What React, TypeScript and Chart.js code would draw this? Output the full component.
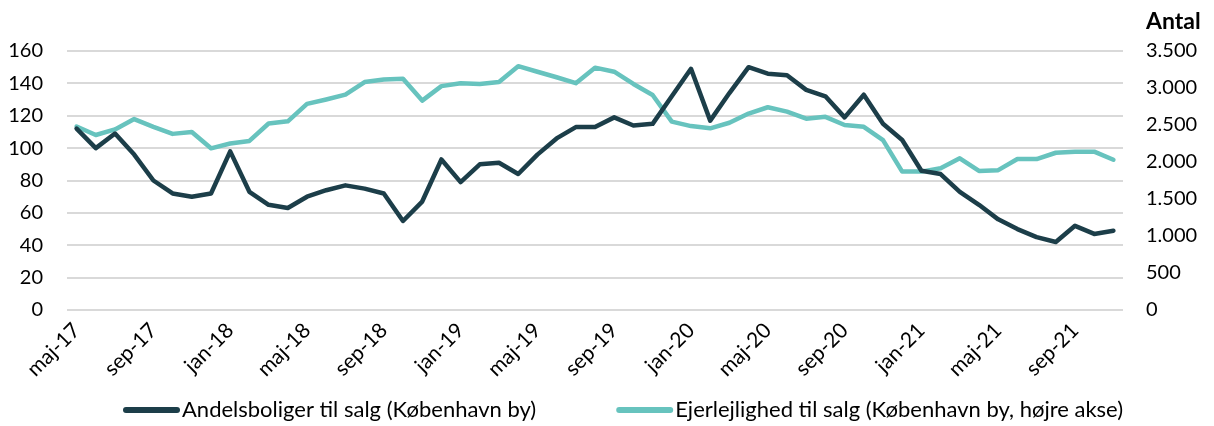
import React, { useEffect, useRef } from "react";
import { Chart, registerables } from "chart.js";

Chart.register(...registerables);

const months: string[] = [
  "maj-17", "jun-17", "jul-17", "aug-17", "sep-17", "okt-17", "nov-17", "dec-17",
  "jan-18", "feb-18", "mar-18", "apr-18", "maj-18", "jun-18", "jul-18", "aug-18", "sep-18", "okt-18", "nov-18", "dec-18",
  "jan-19", "feb-19", "mar-19", "apr-19", "maj-19", "jun-19", "jul-19", "aug-19", "sep-19", "okt-19", "nov-19", "dec-19",
  "jan-20", "feb-20", "mar-20", "apr-20", "maj-20", "jun-20", "jul-20", "aug-20", "sep-20", "okt-20", "nov-20", "dec-20",
  "jan-21", "feb-21", "mar-21", "apr-21", "maj-21", "jun-21", "jul-21", "aug-21", "sep-21", "okt-21", "nov-21",
];

const andelsboliger: number[] = [
  112, 100, 109, 96, 80, 72, 70, 72, 98, 73, 65, 63, 70, 74, 77, 75, 72, 55, 67, 93,
  79, 90, 91, 84, 96, 106, 113, 113, 119, 114, 115, 132, 149, 117, 134, 150, 146, 145, 136, 132,
  119, 133, 115, 105, 86, 84, 73, 65, 56, 50, 45, 42, 52, 47, 49,
];

const ejerlejligheder: number[] = [
  2480, 2365, 2440, 2580, 2475, 2380, 2405, 2185, 2250, 2285, 2520, 2550, 2785, 2845, 2910, 3080, 3115, 3125, 2830, 3025,
  3065, 3055, 3080, 3295, 3220, 3145, 3065, 3275, 3220, 3055, 2905, 2545, 2485, 2455, 2530, 2655, 2740, 2680, 2585, 2610,
  2500, 2475, 2295, 1870, 1870, 1915, 2050, 1880, 1890, 2040, 2040, 2125, 2140, 2140, 2030,
];

const seriesNames: string[] = [
  "Andelsboliger til salg (København by)",
  "Ejerlejlighed til salg (København by, højre akse)",
];

const rightAxisTitle = "Antal";

const DARK = "#1c3e49";
const TEAL = "#67c3be";
const FONT = "Lato";

function formatThousands(v: number): string {
  return String(v).replace(/\B(?=(\d{3})+(?!\d))/g, ".");
}

export default function App() {
  const ref = useRef<HTMLCanvasElement | null>(null);

  useEffect(() => {
    if (!ref.current) return;
    const titlePlugin = {
      id: "rightTitle",
      afterDraw(chart: any) {
        const ctx = chart.ctx;
        const s = chart.scales.y2;
        ctx.save();
        ctx.font = `bold 23px ${FONT}`;
        ctx.fillStyle = "#000";
        ctx.textAlign = "left";
        ctx.textBaseline = "middle";
        ctx.fillText(rightAxisTitle, s.left + 23, 22);
        ctx.restore();
      },
    };
    const legendPlugin = {
      id: "customLegend",
      afterDraw(chart: any) {
        const ctx = chart.ctx;
        ctx.save();
        ctx.font = `22px ${FONT}`;
        ctx.textAlign = "left";
        ctx.textBaseline = "middle";
        const y = 410;
        let x = 123;
        chart.data.datasets.forEach((ds: any) => {
          ctx.strokeStyle = ds.borderColor;
          ctx.lineWidth = 6;
          ctx.lineCap = "round";
          ctx.beginPath();
          ctx.moveTo(x + 3, y);
          ctx.lineTo(x + 54, y);
          ctx.stroke();
          ctx.fillStyle = "#000";
          ctx.fillText(ds.label, x + 59, y);
          x += 59 + ctx.measureText(ds.label).width + 80;
        });
        ctx.restore();
      },
    };
    const chart = new Chart(ref.current, {
      type: "line",
      data: {
        labels: months,
        datasets: [
          {
            label: seriesNames[0],
            data: andelsboliger,
            borderColor: DARK,
            backgroundColor: DARK,
            borderWidth: 4.5,
            pointRadius: 0,
            borderJoinStyle: "round",
            borderCapStyle: "round",
            yAxisID: "y",
            tension: 0,
          },
          {
            label: seriesNames[1],
            data: ejerlejligheder,
            borderColor: TEAL,
            backgroundColor: TEAL,
            borderWidth: 4.5,
            pointRadius: 0,
            borderJoinStyle: "round",
            borderCapStyle: "round",
            yAxisID: "y2",
            tension: 0,
          },
        ],
      },
      options: {
        animation: false,
        responsive: true,
        maintainAspectRatio: false,
        layout: { padding: { top: 51, left: 0, right: 0, bottom: 16 } },
        plugins: {
          tooltip: { enabled: false },
          legend: { display: false },
        },
        scales: {
          x: {
            offset: true,
            grid: { display: false, drawTicks: false },
            border: { display: false },
            ticks: {
              autoSkip: false,
              minRotation: 45,
              maxRotation: 45,
              padding: 8,
              color: "#000",
              font: { family: FONT, size: 21 },
              callback: (_v: any, i: number) => (i % 4 === 0 ? months[i] : ""),
            },
            afterFit: (scale: any) => {
              scale.height = 100;
            },
          },
          y: {
            position: "left",
            min: 0,
            max: 160,
            ticks: {
              stepSize: 20,
              padding: 24,
              color: "#000",
              font: { family: FONT, size: 20 },
            },
            grid: { color: "#d9d9d9", lineWidth: 2, drawTicks: false },
            border: { display: false },
            afterFit: (scale: any) => {
              scale.width = 67;
            },
          },
          y2: {
            position: "right",
            min: 0,
            max: 3500,
            ticks: {
              stepSize: 500,
              padding: 23,
              color: "#000",
              font: { family: FONT, size: 20 },
              callback: (v: any) => formatThousands(Number(v)),
            },
            grid: { display: false, drawTicks: false },
            border: { display: false },
            afterFit: (scale: any) => {
              scale.width = 91;
            },
          },
        },
      },
      plugins: [titlePlugin, legendPlugin],
    } as any);
    return () => chart.destroy();
  }, []);

  return (
    <div style={{ position: "absolute", left: 0, top: 0, width: 1214, height: 426, background: "#fff" }}>
      <canvas ref={ref} />
    </div>
  );
}
